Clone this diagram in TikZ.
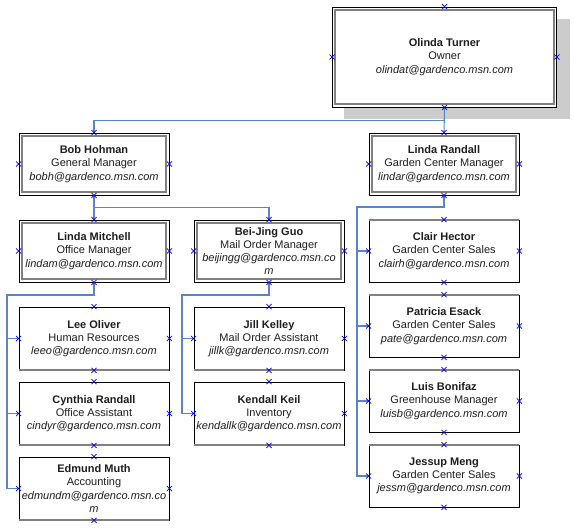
\documentclass[tikz,border=0pt]{standalone}
\usepackage{fontspec}
\setmainfont{Liberation Sans}
\usetikzlibrary{shapes.misc}
\definecolor{linkblue}{RGB}{90,130,205}
\definecolor{shadowgray}{RGB}{204,204,204}
\definecolor{framegray}{RGB}{128,128,128}
\definecolor{textgray}{RGB}{30,30,30}
\newcommand{\person}[3]{\textbf{#1}\\#2\\\textit{#3}}

\begin{document}
\begin{tikzpicture}[x=1pt,y=-1pt,
  card/.style={draw=black, line width=0.8pt, fill=white, text=textgray, minimum width=150pt, minimum height=62pt, inner sep=0pt, align=center, font=\fontsize{11}{13.3}\selectfont},
  link/.style={linkblue, line width=1.1pt},
  conpt/.style={cross out, draw=blue, minimum size=4.5pt, inner sep=0pt, line width=0.6pt}]
\useasboundingbox (0,0) rectangle (575,532);
\fill [shadowgray] (344,19) rectangle (570,119);
\node [card, minimum width=224pt, minimum height=100pt] (olinda) at (444.5,57) {\person{Olinda Turner}{Owner}{olindat@gardenco.msn.com}};
\node [card] (bob) at (94,164) {\person{Bob Hohman}{General Manager}{bobh@gardenco.msn.com}};
\node [card] (lindar) at (444,164) {\person{Linda Randall}{Garden Center Manager}{lindar@gardenco.msn.com}};
\node [card] (lindam) at (94,251) {\person{Linda Mitchell}{Office Manager}{lindam@gardenco.msn.com}};
\node [card] (beijing) at (269,251) {\textbf{Bei-Jing Guo}\\Mail Order Manager\\\textit{beijingg@gardenco.msn.co}\\\textit{m}};
\node [card, minimum height=63pt] (lee) at (94,338.5) {\person{Lee Oliver}{Human Resources}{leeo@gardenco.msn.com}};
\node [card, minimum height=63pt] (cynthia) at (94,413.5) {\person{Cynthia Randall}{Office Assistant}{cindyr@gardenco.msn.com}};
\node [card, minimum height=63pt] (edmund) at (94,488.5) {\textbf{Edmund Muth}\\Accounting\\\textit{edmundm@gardenco.msn.co}\\\textit{m}};
\node [card, minimum height=63pt] (jill) at (269,338.5) {\person{Jill Kelley}{Mail Order Assistant}{jillk@gardenco.msn.com}};
\node [card, minimum height=63pt] (kendall) at (269,413.5) {\person{Kendall Keil}{Inventory}{kendallk@gardenco.msn.com}};
\node [card] (clair) at (444,251) {\person{Clair Hector}{Garden Center Sales}{clairh@gardenco.msn.com}};
\node [card] (patricia) at (444,326) {\person{Patricia Esack}{Garden Center Sales}{pate@gardenco.msn.com}};
\node [card] (luis) at (444,401) {\person{Luis Bonifaz}{Greenhouse Manager}{luisb@gardenco.msn.com}};
\node [card] (jessup) at (444,476) {\person{Jessup Meng}{Garden Center Sales}{jessm@gardenco.msn.com}};
\foreach \n in {olinda,bob,lindar,lindam,beijing}
  \draw [framegray, line width=2pt] ([xshift=3pt,yshift=-3pt]\n.north west) rectangle ([xshift=-3pt,yshift=3pt]\n.south east);
\foreach \n in {lee,cynthia,edmund,jill,kendall}
  \draw [framegray, line width=2pt] ([yshift=0.6pt]\n.south west) -- ([yshift=0.6pt]\n.south east);
\foreach \n in {clair,patricia,luis,jessup}
  \draw [framegray, line width=2pt] ([yshift=-0.6pt]\n.north west) -- ([yshift=-0.6pt]\n.north east);
\coordinate (railA) at (7,295);
\coordinate (railB) at (182,295);
\coordinate (railC) at (357,207);
\draw [link] (olinda.south) -- (lindar.north);
\draw [link] (olinda.south) -- ++(0,13) -| (bob.north);
\draw [link] (bob.south) -- (lindam.north);
\draw [link] (bob.south) -- ++(0,12) -| (beijing.north);
\draw [link] (lindam.south) |- (railA) |- (edmund.west);
\draw [link] (railA |- lee.west) -- (lee.west);
\draw [link] (railA |- cynthia.west) -- (cynthia.west);
\draw [link] (beijing.south) |- (railB) |- (kendall.west);
\draw [link] (railB |- jill.west) -- (jill.west);
\draw [link] (lindar.south) |- (railC) |- (jessup.west);
\draw [link] (railC |- clair.west) -- (clair.west);
\draw [link] (railC |- patricia.west) -- (patricia.west);
\draw [link] (railC |- luis.west) -- (luis.west);
\foreach \n in {olinda,bob,lindar,lindam,beijing,lee,cynthia,edmund,jill,kendall,clair,patricia,luis,jessup}
  \foreach \a in {north,south,east,west}
    \node [conpt] at (\n.\a) {};
\end{tikzpicture}
\end{document}
